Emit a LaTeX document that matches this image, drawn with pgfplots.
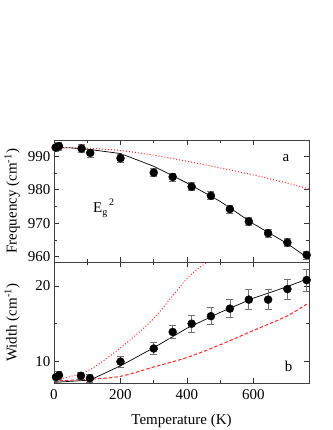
\documentclass[border=0pt]{standalone}
\usepackage{fontspec}
\setmainfont{Liberation Serif}
\usepackage{pgfplots}
\pgfplotsset{compat=1.18}
\usepackage{pgfplotstable}

% measured points: T, value, error
\pgfplotstableread{
T    f      e
5    992.6  1.2
15   993.0  1.2
83   992.3  1.2
109  991.0  1.2
200  989.4  1.2
300  985.1  1.2
357  983.8  1.2
414  980.9  1.2
472  978.2  1.2
529  974.2  1.2
586  970.5  1.2
644  967.0  1.2
702  964.2  1.2
760  960.5  1.2
}\freqdata

\pgfplotstableread{
T    w      e
6    7.9    0.5
15   8.15   0.5
81   8.07   0.5
108  7.75   0.5
200  9.96   0.7
300  11.7   0.8
357  13.9   0.9
414  15.0   1.1
472  16.0   1.15
529  17.0   1.19
586  18.2   1.32
644  18.2   1.32
702  19.6   1.36
760  20.8   1.45
}\widthdata

\begin{document}
\begin{tikzpicture}[font=\fontsize{15}{17}\selectfont]
\pgfplotsset{
  panel/.style={
    scale only axis, width=255pt, height=121.5pt,
    xmin=0, xmax=767,
    xtick={0,200,400,600}, minor x tick num=1,
    tick align=inside, major tick length=5pt, minor tick length=3pt,
    axis line style={black!75, line width=0.9pt},
    every tick/.style={black!80, line width=0.7pt},
    /pgf/number format/assume math mode=true,
    ylabel style={at={(axis description cs:-0.133,0.5)}, anchor=south, inner sep=0pt},
    xticklabel style={yshift=-2pt},
  },
  pts/.style={only marks, mark=*, mark size=4pt, black,
    error bars/.cd, y dir=both, y explicit,
    error bar style={black!55, line width=0.7pt},
    error mark options={black!55, line width=0.7pt, mark size=3.5pt, rotate=90}},
  reddot/.style={red!85, line width=1pt, dash pattern=on 1pt off 2pt, smooth},
}

% bottom panel: width
\begin{axis}[panel, at={(0,0)},
  ymin=7.05, ymax=23.2,
  ytick={10,20}, minor ytick={15},
  xlabel={Temperature (K)},
  xlabel style={at={(axis description cs:0.5,-0.25)}, anchor=north, inner sep=0pt},
  ylabel={Width (cm\textsuperscript{-1})},
]
\addplot[reddot] coordinates {
  (0,7.5) (100,8.7) (200,11.8) (300,15.7) (400,21.0) (460,23.2) (500,24.6)};
\addplot[red!85, line width=1pt, dash pattern=on 3.5pt off 2pt, smooth] coordinates {
  (0,7.4) (100,7.6) (200,8.0) (300,9.25) (400,10.5) (500,12.2) (600,14.1) (700,16.0) (760,17.6)};
\addplot[black, line width=0.7pt] coordinates {
  (0,7.2) (108,7.5) (200,9.4) (300,11.8) (400,14.4) (500,16.5) (600,18.4) (700,19.9) (765,21.0)};
\addplot[pts] table[x=T, y=w, y error=e] {\widthdata};
\node at (rel axis cs:0.92,0.14) {b};
\end{axis}

% top panel: frequency
\begin{axis}[panel, at={(0,121.5pt)},
  ymin=958.4, ymax=994.7,
  ytick={960,970,980,990}, minor y tick num=1,
  xticklabels={},
  ylabel={Frequency (cm\textsuperscript{-1})},
]
\addplot[reddot] coordinates {
  (0,992.6) (100,992.4) (200,991.7) (300,990.3) (400,988.5) (500,986.5) (600,984.4) (700,982.0) (767,980.2)};
\addplot[black, line width=0.7pt] coordinates {
  (0,992.5) (50,992.5) (100,992.1) (200,990.8) (300,987.0) (400,982.0) (500,976.5) (600,969.8) (700,964.0) (767,959.4)};
\addplot[pts] table[x=T, y=f, y error=e] {\freqdata};
\node at (rel axis cs:0.91,0.852) {a};
\node[anchor=base west, inner sep=0pt] at (rel axis cs:0.153,0.41)
  {E\raisebox{-0.45ex}{\fontsize{10}{10}\selectfont g}\raisebox{0.9ex}{\fontsize{10}{10}\selectfont\,2}};
\end{axis}

\path (-54pt,-46.5pt) rectangle (278pt,383.5pt);
\end{tikzpicture}
\end{document}
